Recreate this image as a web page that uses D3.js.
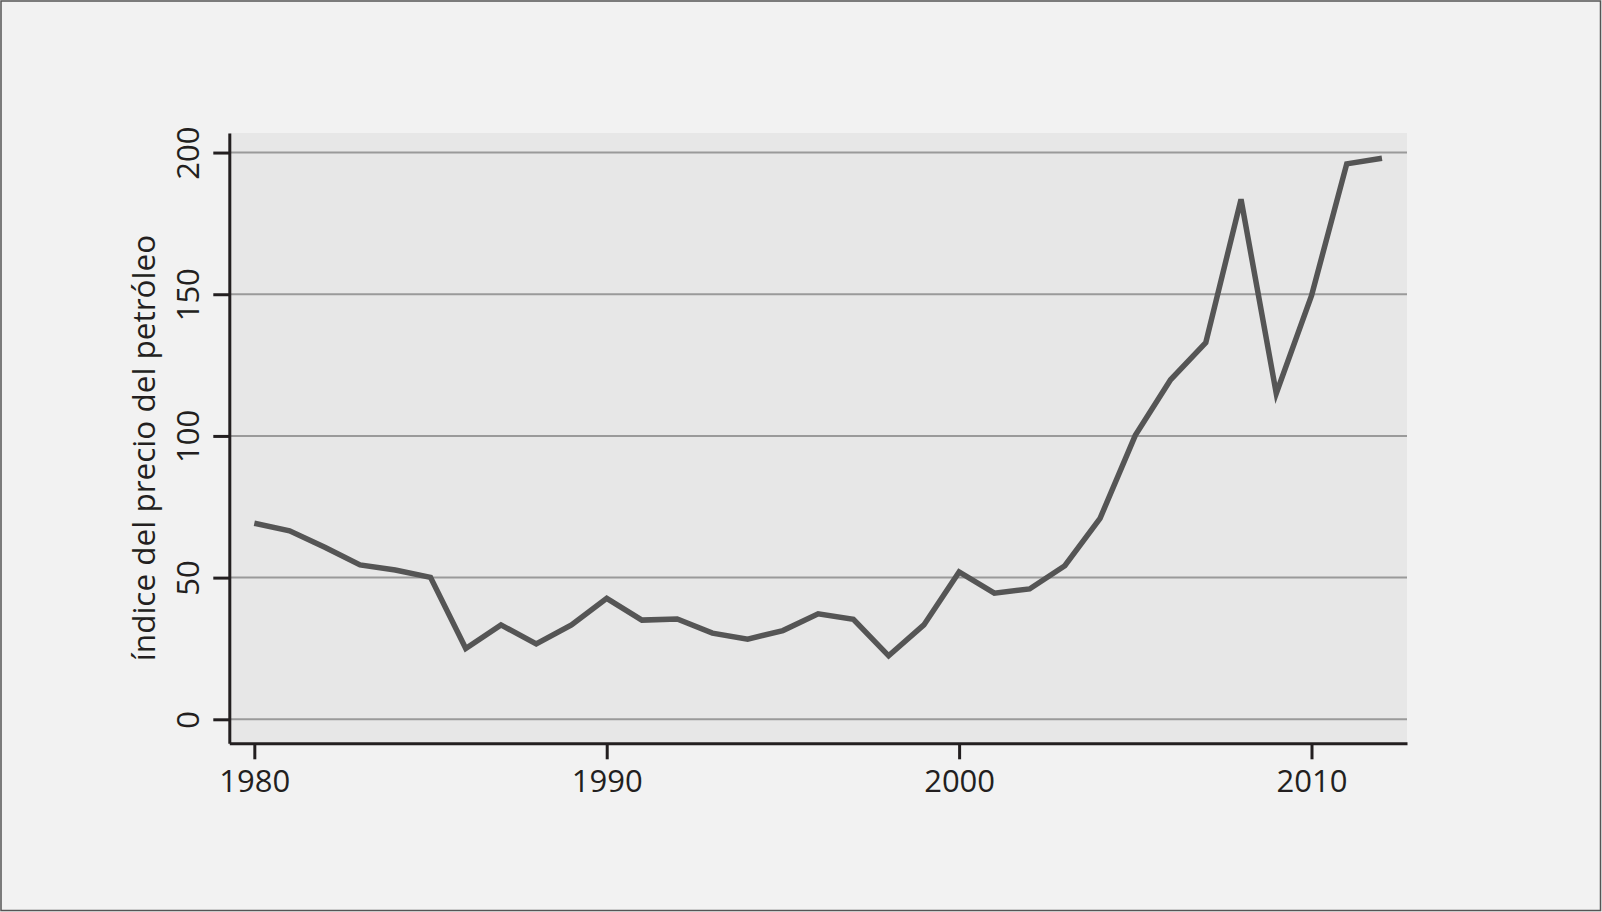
<!DOCTYPE html>
<html>
<head>
	<meta charset="UTF-8">
	<title>Índice del precio del petróleo</title>
	<script src="https://cdn.jsdelivr.net/npm/d3@7"></script>
	<style>
		html, body { margin: 0; padding: 0; background: #f2f2f2; }
		svg { display: block; }
		text { font-family: "Open Sans", "Noto Sans", sans-serif; fill: #231f20; }
	</style>
</head>
<body>
<div id="chart"></div>
<script>

// années et valeurs
const years = [1980, 1981, 1982, 1983, 1984, 1985, 1986, 1987, 1988, 1989,
               1990, 1991, 1992, 1993, 1994, 1995, 1996, 1997, 1998, 1999,
               2000, 2001, 2002, 2003, 2004, 2005, 2006, 2007, 2008, 2009,
               2010, 2011, 2012];
const values = [69.2, 66.5, 60.7, 54.5, 52.7, 50.1, 25.0, 33.3, 26.6, 33.3,
                42.7, 35.0, 35.4, 30.4, 28.3, 31.3, 37.2, 35.3, 22.4, 33.3,
                52.0, 44.5, 46.0, 54.2, 70.9, 100.2, 119.8, 132.9, 183.5, 115.0,
                149.5, 196.0, 198.0];
const xTicks = [1980, 1990, 2000, 2010];
const yTicks = [0, 50, 100, 150, 200];
const yTitle = "índice del precio del petróleo";

const width = 1602, height = 912;
const plot = {left: 229.3, right: 1407, top: 133, bottom: 743.3};

const svg = d3.select("#chart").append("svg")
    .attr("width", width)
    .attr("height", height);

// cadre extérieur
svg.append("rect")
    .attr("x", 1).attr("y", 1)
    .attr("width", width - 2.5).attr("height", height - 2.5)
    .attr("fill", "#f2f2f2")
    .attr("stroke", "#555")
    .attr("stroke-width", 1.5);

const x = d3.scaleLinear()
    .domain([1979.29, 2012.71])
    .range([plot.left, plot.right]);

const y = d3.scaleLinear()
    .domain([-8.47, 206.9])
    .range([plot.bottom, plot.top]);

// fond de la zone de tracé
svg.append("rect")
    .attr("x", plot.left).attr("y", plot.top)
    .attr("width", plot.right - plot.left)
    .attr("height", plot.bottom - plot.top)
    .attr("fill", "#e7e7e7");

// lignes de grille
svg.append("g")
    .selectAll("line")
    .data(yTicks)
    .enter().append("line")
        .attr("x1", plot.left).attr("x2", plot.right)
        .attr("y1", d => y(d)).attr("y2", d => y(d))
        .attr("stroke", "#9a9a9a")
        .attr("stroke-width", 2);

// la courbe
const line = d3.line()
    .x((d, i) => x(years[i]))
    .y(d => y(d));

svg.append("path")
    .datum(values)
    .attr("d", line)
    .attr("fill", "none")
    .attr("stroke", "#555555")
    .attr("stroke-width", 5.5)
    .attr("stroke-linejoin", "miter");

// axe X
const gx = svg.append("g")
    .attr("transform", "translate(0," + plot.bottom + ")")
    .call(d3.axisBottom(x).tickValues(xTicks).tickFormat(d3.format("d"))
        .tickSize(16).tickSizeOuter(0));
gx.select(".domain").attr("stroke", "#231f20").attr("stroke-width", 3);
gx.selectAll(".tick line").attr("stroke", "#231f20").attr("stroke-width", 3);
gx.selectAll(".tick text")
    .attr("y", 48.5)
    .attr("dy", 0)
    .style("font-size", "31px");

// axe Y, étiquettes tournées
const gy = svg.append("g")
    .attr("transform", "translate(" + plot.left + ",0)")
    .call(d3.axisLeft(y).tickValues(yTicks).tickSize(16).tickSizeOuter(0));
gy.select(".domain").attr("stroke", "#231f20").attr("stroke-width", 3);
gy.selectAll(".tick line").attr("stroke", "#231f20").attr("stroke-width", 3);
gy.selectAll(".tick text")
    .attr("transform", "rotate(-90)")
    .attr("x", 0)
    .attr("y", -30)
    .attr("dy", 0)
    .attr("text-anchor", "middle")
    .style("font-size", "31px");

gx.selectAll("text").attr("fill", "#231f20").attr("font-family", null);
gy.selectAll("text").attr("fill", "#231f20").attr("font-family", null);

// titre de l'axe Y
svg.append("text")
    .attr("transform", "translate(155,448) rotate(-90)")
    .attr("text-anchor", "middle")
    .style("font-size", "31.5px")
    .text(yTitle);

</script>
</body>
</html>
